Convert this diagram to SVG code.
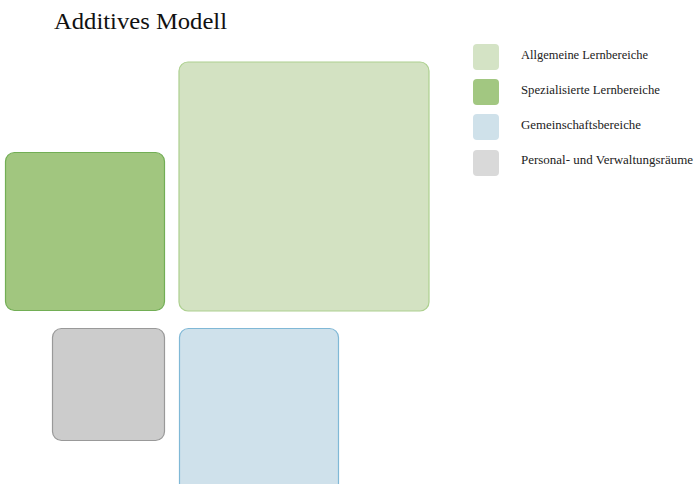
<svg xmlns="http://www.w3.org/2000/svg" width="695" height="484" viewBox="0 0 695 484">
  <style>
    .title { font-family: "Liberation Serif", "DejaVu Serif", serif; font-size: 23px; fill: #111; }
    .lbl { font-family: "Liberation Serif", "DejaVu Serif", serif; font-size: 12px; fill: #222; }
    .allg { fill: #d3e2c2; stroke: #add08f; stroke-width: 1.2; }
    .spez { fill: #a1c67f; stroke: #72ae55; stroke-width: 1.2; }
    .gem { fill: #cfe1eb; stroke: #80b8d6; stroke-width: 1.2; }
    .pers { fill: #cccccc; stroke: #999999; stroke-width: 1.2; }
  </style>
  <rect width="695" height="484" fill="#ffffff"/>
  <text class="title" x="54" y="29" textLength="173" lengthAdjust="spacingAndGlyphs">Additives Modell</text>

  <g id="allgemeine-lernbereiche">
    <rect class="allg" x="179" y="62" width="250" height="249" rx="9"/>
  </g>
  <g id="spezialisierte-lernbereiche">
    <rect class="spez" x="5.5" y="152.5" width="159" height="158" rx="9"/>
  </g>
  <g id="personal-verwaltung">
    <rect class="pers" x="52.5" y="328.5" width="112" height="112" rx="9"/>
  </g>
  <g id="gemeinschaftsbereiche">
    <rect class="gem" x="179.5" y="328.5" width="159" height="165" rx="9"/>
  </g>

  <g id="legend">
    <rect x="473" y="44" width="26" height="26" rx="4" fill="#d4e3c5"/>
    <text class="lbl" x="521" y="59" textLength="127" lengthAdjust="spacingAndGlyphs">Allgemeine Lernbereiche</text>
    <rect x="473" y="79" width="26" height="26" rx="4" fill="#a2c781"/>
    <text class="lbl" x="521" y="94" textLength="139" lengthAdjust="spacingAndGlyphs">Spezialisierte Lernbereiche</text>
    <rect x="473" y="114" width="26" height="26" rx="4" fill="#cfe1ea"/>
    <text class="lbl" x="521" y="129" textLength="120" lengthAdjust="spacingAndGlyphs">Gemeinschaftsbereiche</text>
    <rect x="473" y="150" width="26" height="26" rx="4" fill="#d9d9d9"/>
    <text class="lbl" x="521" y="164" textLength="172" lengthAdjust="spacingAndGlyphs">Personal- und Verwaltungsräume</text>
  </g>
  <g id="connectors"/>
</svg>
